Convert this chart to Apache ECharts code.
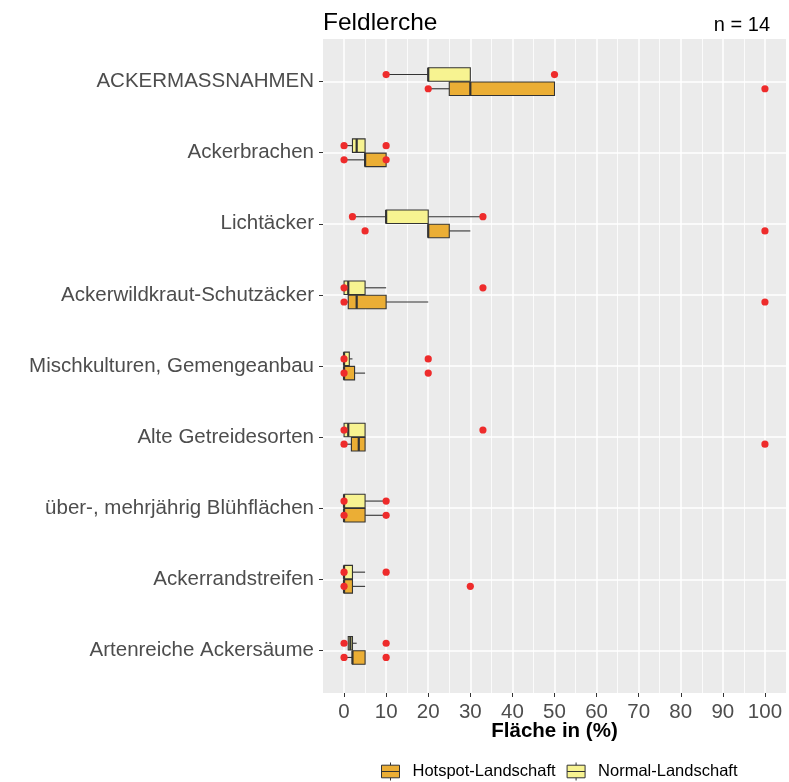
<!DOCTYPE html>
<html>
<head>
<meta charset="utf-8">
<script src="https://cdn.jsdelivr.net/npm/echarts@6/dist/echarts.min.js"></script>
<style>html,body{margin:0;padding:0;background:#fff}#c{width:789px;height:782px}</style>
</head>
<body>
<div id="c"></div>
<script>
const categories = [
  'ACKERMASSNAHMEN',
  'Ackerbrachen',
  'Lichtäcker',
  'Ackerwildkraut-Schutzäcker',
  'Mischkulturen, Gemengeanbau',
  'Alte Getreidesorten',
  'über-, mehrjährig Blühflächen',
  'Ackerrandstreifen',
  'Artenreiche Ackersäume'
];
// [min, q1, median, q3, max] per category
const normalBox = [
  [10, 20, 20, 30, 30],
  [0, 2, 3, 5, 5],
  [2, 10, 10, 20, 33],
  [0, 0, 1, 5, 10],
  [0, 0, 0, 1.25, 2],
  [0, 0, 1, 5, 5],
  [0, 0, 0, 5, 10],
  [0, 0, 0, 2, 5],
  [1, 1, 1.5, 2, 3]
];
const hotspotBox = [
  [20, 25, 30, 50, 50],
  [0, 5, 5, 10, 10],
  [20, 20, 20, 25, 30],
  [0, 1, 3, 10, 20],
  [0, 0, 0, 2.5, 5],
  [0, 1.75, 3.5, 5, 5],
  [0, 0, 0, 5, 10],
  [0, 0, 0, 2, 5],
  [0, 2, 2, 5, 5]
];
// red points [min, max] per category
const normalPoints = [
  [10, 50], [0, 10], [2, 33], [0, 33], [0, 20], [0, 33], [0, 10], [0, 10], [0, 10]
];
const hotspotPoints = [
  [20, 100], [0, 10], [5, 100], [0, 100], [0, 20], [0, 100], [0, 10], [0, 30], [0, 10]
];
const xTicks = [0, 10, 20, 30, 40, 50, 60, 70, 80, 90, 100];
const xMinorGrid = [5, 15, 25, 35, 45, 55, 65, 75, 85, 95];
const catIndex = categories.map((c, i) => i);

const NORMAL_COLOR = '#F7F391';
const HOTSPOT_COLOR = '#EBAE35';
const FONT = "'Liberation Sans', Arial, sans-serif";
const BAND_PAD = 0.6;

function boxData(arr) {
  return arr.map((b, i) => [i].concat(b));
}
function pointData(arr) {
  const out = [];
  arr.forEach((p, i) => p.forEach(v => out.push([v, i])));
  return out;
}
function makeRender(offsetFrac, fill) {
  return function (params, api) {
    const cat = api.value(0);
    const vals = [api.value(1), api.value(2), api.value(3), api.value(4), api.value(5)];
    const xs = vals.map(v => api.coord([v, cat])[0]);
    const band = Math.abs(api.coord([0, cat + 1])[1] - api.coord([0, cat])[1]);
    const cy = api.coord([vals[0], cat])[1] + offsetFrac * band;
    const h = band * 0.19;
    const lineStyle = { stroke: '#333333', lineWidth: 1.1 };
    return {
      type: 'group',
      children: [
        { type: 'line', shape: { x1: xs[0], y1: cy, x2: xs[1], y2: cy }, style: lineStyle },
        { type: 'line', shape: { x1: xs[3], y1: cy, x2: xs[4], y2: cy }, style: lineStyle },
        { type: 'rect', shape: { x: xs[1], y: cy - h / 2, width: xs[3] - xs[1], height: h },
          style: { fill: fill, stroke: '#333333', lineWidth: 1.1 } },
        { type: 'line', shape: { x1: xs[2], y1: cy - h / 2, x2: xs[2], y2: cy + h / 2 },
          style: { stroke: '#333333', lineWidth: 2.2 } }
      ]
    };
  };
}
function makePointRender(offsetFrac) {
  return function (params, api) {
    const cat = api.value(1);
    const p = api.coord([api.value(0), cat]);
    const band = Math.abs(api.coord([0, cat + 1])[1] - api.coord([0, cat])[1]);
    return {
      type: 'circle',
      shape: { cx: p[0], cy: p[1] + offsetFrac * band, r: 3.6 },
      style: { fill: '#EE2B2B' }
    };
  };
}

const chart = echarts.init(document.getElementById('c'), null, { renderer: 'canvas' });
chart.setOption({
  animation: false,
  backgroundColor: '#ffffff',
  textStyle: { fontFamily: FONT },
  title: [
    { text: 'Feldlerche', left: 323, top: 11, padding: 0,
      textStyle: { fontSize: 24.5, fontWeight: 'normal', color: '#000', fontFamily: FONT } },
    { text: 'n = 14', right: 19, top: 15, padding: 0,
      textStyle: { fontSize: 20, fontWeight: 'normal', color: '#000', fontFamily: FONT } }
  ],
  legend: {
    data: ['Hotspot-Landschaft', 'Normal-Landschaft'],
    left: 381, top: 762, padding: 0,
    itemWidth: 18, itemHeight: 18, itemGap: 11,
    icon: 'path://M0,3 L20,3 L20,17 L0,17 Z M0,10 L20,10 M10,0 L10,3 M10,17 L10,20',
    itemStyle: { borderColor: '#333333', borderWidth: 1 },
    textStyle: { fontSize: 16.5, color: '#000', fontFamily: FONT, padding: [0, 0, 0, 8] }
  },
  grid: {
    left: 323, right: 3, top: 39, bottom: 89,
    show: true, backgroundColor: '#EBEBEB', borderWidth: 0
  },
  xAxis: [
    {
      type: 'value', min: -5, max: 105,
      axisLine: { show: false, onZero: false },
      axisTick: { show: false, customValues: xMinorGrid },
      axisLabel: { show: false, customValues: xMinorGrid },
      splitLine: { show: true, lineStyle: { color: '#ffffff', width: 0.8 } }
    },
    {
      type: 'value', min: -5, max: 105, position: 'bottom',
      axisLine: { show: false, onZero: false },
      axisTick: { show: true, length: 4, lineStyle: { color: '#333333', width: 1 },
        customValues: xTicks },
      axisLabel: { fontSize: 20.5, color: '#4D4D4D', margin: 9, fontFamily: FONT,
        customValues: xTicks },
      splitLine: { show: true, lineStyle: { color: '#ffffff', width: 1.5 } },
      name: 'Fläche in (%)', nameLocation: 'middle', nameGap: 28, nameMoveOverlap: false,
      nameTextStyle: { fontSize: 20.5, fontWeight: 'bold', color: '#000', fontFamily: FONT }
    }
  ],
  yAxis: {
    type: 'value', inverse: true,
    min: -BAND_PAD, max: categories.length - 1 + BAND_PAD,
    axisLine: { show: false, onZero: false },
    axisTick: { show: true, length: 4, lineStyle: { color: '#333333' }, customValues: catIndex },
    axisLabel: { fontSize: 20.5, color: '#4D4D4D', margin: 9, fontFamily: FONT,
      customValues: catIndex, formatter: v => categories[Math.round(v)] },
    splitLine: { show: true, lineStyle: { color: '#ffffff', width: 1.5 } }
  },
  series: [
    {
      name: 'Normal-Landschaft', type: 'custom', xAxisIndex: 1,
      itemStyle: { color: NORMAL_COLOR, borderColor: '#333333' },
      renderItem: makeRender(-0.1, NORMAL_COLOR),
      encode: { x: [1, 2, 3, 4, 5], y: 0 },
      data: boxData(normalBox), z: 2
    },
    {
      name: 'Hotspot-Landschaft', type: 'custom', xAxisIndex: 1,
      itemStyle: { color: HOTSPOT_COLOR, borderColor: '#333333' },
      renderItem: makeRender(0.1, HOTSPOT_COLOR),
      encode: { x: [1, 2, 3, 4, 5], y: 0 },
      data: boxData(hotspotBox), z: 2
    },
    {
      name: 'normal points', type: 'custom', xAxisIndex: 1,
      renderItem: makePointRender(-0.1),
      encode: { x: 0, y: 1 },
      data: pointData(normalPoints), z: 5
    },
    {
      name: 'hotspot points', type: 'custom', xAxisIndex: 1,
      renderItem: makePointRender(0.1),
      encode: { x: 0, y: 1 },
      data: pointData(hotspotPoints), z: 5
    }
  ]
});
</script>
</body>
</html>
